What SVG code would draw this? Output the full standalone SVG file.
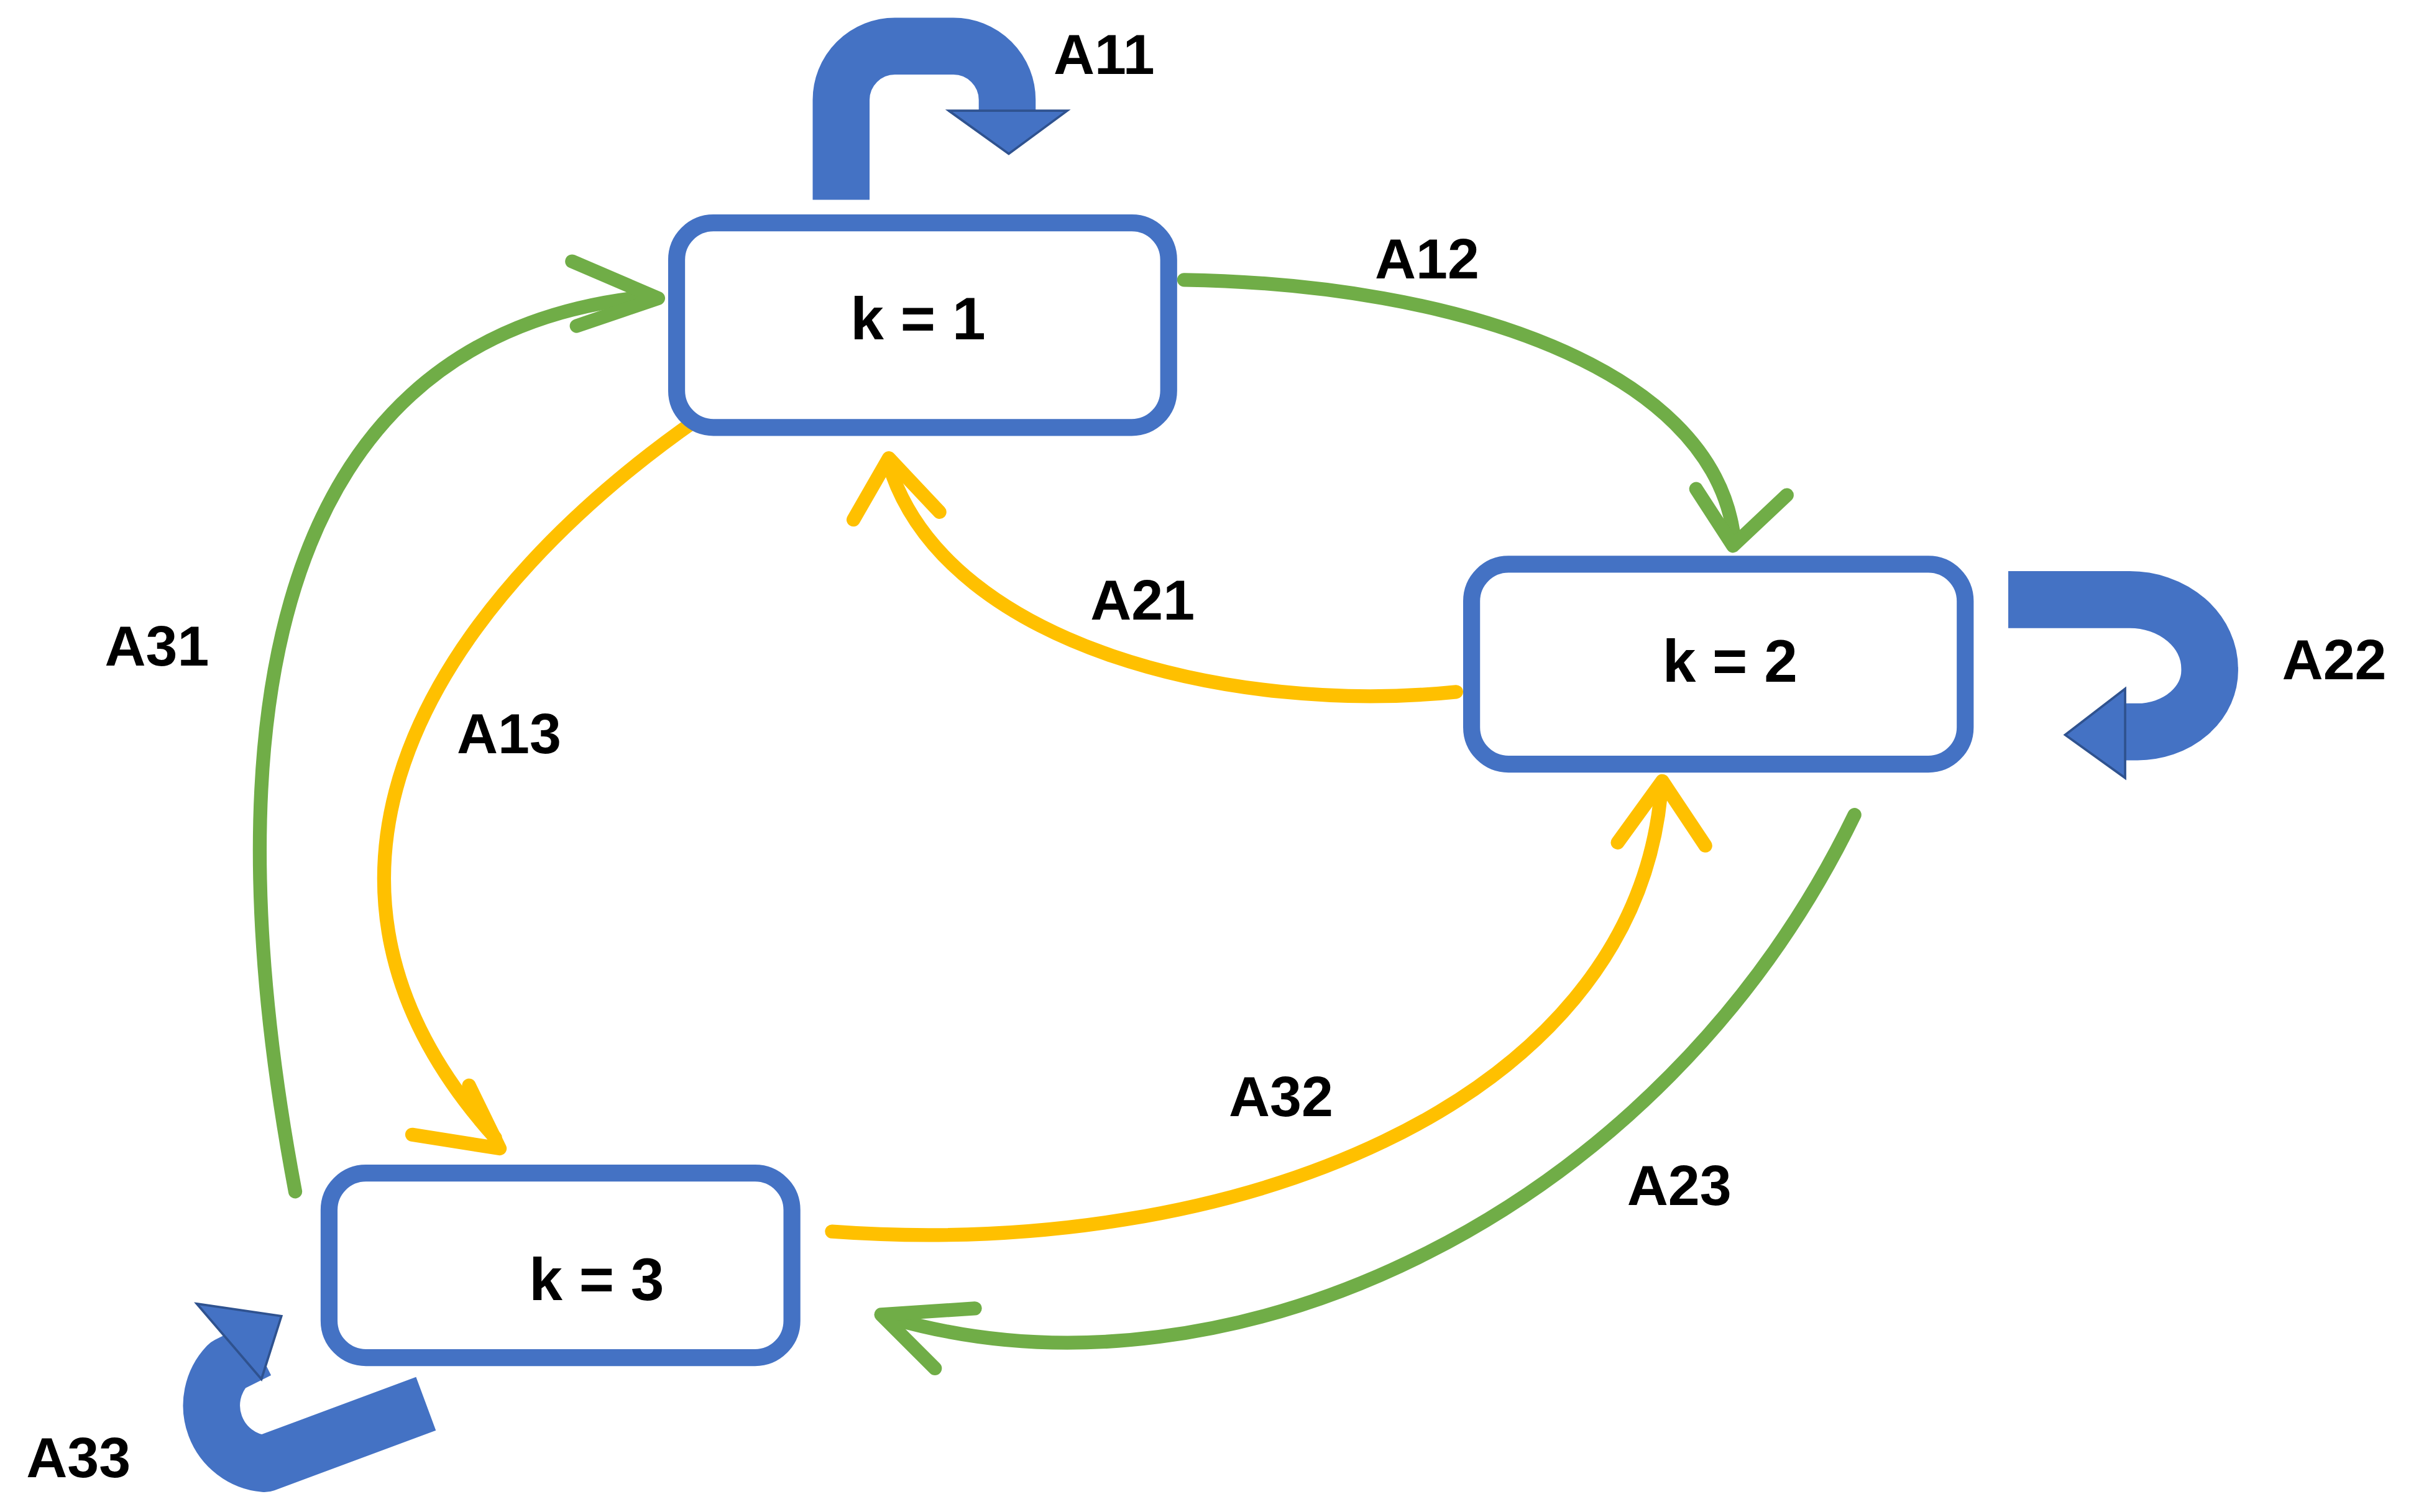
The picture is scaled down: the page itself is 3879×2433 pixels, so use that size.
<svg xmlns="http://www.w3.org/2000/svg" width="3879" height="2433" viewBox="0 0 3879 2433">
<style>
.node{fill:#fff;stroke:#4472C4;stroke-width:11}
.nt{font-family:"Liberation Sans",Arial,sans-serif;font-weight:bold;font-size:39px;text-anchor:middle;dominant-baseline:central;fill:#000}
.lb{font-family:"Liberation Sans",Arial,sans-serif;font-weight:bold;font-size:37px;text-anchor:middle;dominant-baseline:central;fill:#000}
.g{fill:none;stroke:#70AD47;stroke-width:9;stroke-linecap:round;stroke-linejoin:round}
.y{fill:none;stroke:#FFC000;stroke-width:9;stroke-linecap:round;stroke-linejoin:round}
.b{fill:none;stroke:#4472C4;stroke-width:37}
.bf{fill:#4472C4;stroke:#2F528F;stroke-width:1.5}
</style>
<rect width="3879" height="2433" fill="#fff"/>
<g transform="scale(2.474)">
<g id="connectors">
<path class="g" d="M770 182 C950 185 1110 240 1127 345"/>
<path class="g" d="M1103 318 L1127 355 L1162 322"/>
<path class="y" d="M947 450 C800 465 620 420 580 308"/>
<path class="y" d="M555 338 L578 298 L611 333"/>
<path class="y" d="M453 273 C300 380 160 560 322 740"/>
<path class="y" d="M268 738 L325 747 L305 706"/>
<path class="g" d="M192 775 C140 500 160 220 420 193"/>
<path class="g" d="M372 170 L428 194 L375 212"/>
<path class="y" d="M541 801 C800 820 1060 720 1080 517"/>
<path class="y" d="M1052 548 L1081 508 L1109 550"/>
<path class="g" d="M1206 530 C1080 790 800 920 582 858"/>
<path class="g" d="M634 851 L573 855 L608 890"/>
<path class="b" d="M547 130 V65 A35 35 0 0 1 582 30 H620 A35 35 0 0 1 655 65 V73" stroke-width="37"/>
<polygon class="bf" points="617,72 694,72 656,100"/>
<path class="b" d="M1306 390 H1385 A52 45 0 0 1 1437 435 A47 40 0 0 1 1390 476 H1382" stroke-width="29"/>
<polygon class="bf" points="1382,448 1382,506 1343,478"/>
<path class="b" d="M277 913 L172 952 A38 38 0 0 1 148 888 L168 878" stroke-width="36" stroke-linejoin="round"/>
<polygon class="bf" points="128,848 183,856 170,897"/>
</g>
<g id="n1"><rect class="node" x="440" y="145" width="320" height="133" rx="24"/><text class="nt" x="597" y="207">k = 1</text></g>
<g id="n2"><rect class="node" x="957" y="367" width="321" height="130" rx="24"/><text class="nt" x="1125" y="430">k = 2</text></g>
<g id="n3"><rect class="node" x="214" y="763" width="301" height="120" rx="24"/><text class="nt" x="388" y="832">k = 3</text></g>
<g id="labels">
<text class="lb" x="718" y="35">A11</text>
<text class="lb" x="928" y="168">A12</text>
<text class="lb" x="743" y="390">A21</text>
<text class="lb" x="1518" y="429">A22</text>
<text class="lb" x="102" y="420">A31</text>
<text class="lb" x="331" y="477">A13</text>
<text class="lb" x="833" y="713">A32</text>
<text class="lb" x="1092" y="771">A23</text>
<text class="lb" x="51" y="948">A33</text>
</g>
</g>
</svg>
